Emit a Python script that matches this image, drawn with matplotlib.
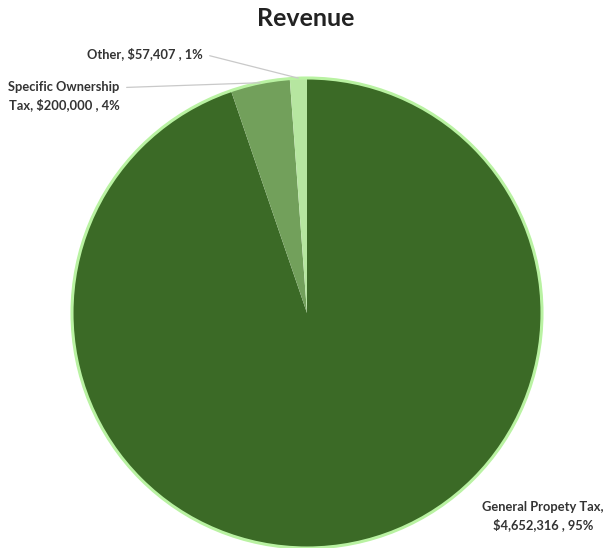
import numpy as np
import matplotlib.pyplot as plt

# revenue sources
names = ['General Propety Tax', 'Specific Ownership Tax', 'Other']
amounts = [4652316, 200000, 57407]
pcts = [95, 4, 1]
colors = ['#3b6a26', '#72a05b', '#b6e6a0']

W, H = 611, 548
fig = plt.figure(figsize=(W/100, H/100), dpi=100)
ax = fig.add_axes([0, 0, 1, 1])

cx, cy, r = 307, H - 313, 235
wedges, _ = ax.pie(amounts, colors=colors, startangle=90, counterclock=False,
                   center=(cx, cy), radius=r, wedgeprops=dict(linewidth=0))
# light rim round the pie
ax.add_patch(plt.Circle((cx, cy), r, fill=False, ec='#b9f2a2', lw=2.2))

ax.set_xlim(0, W)
ax.set_ylim(0, H)
ax.set_aspect('equal')
ax.axis('off')

lab_font = dict(family='Lato', fontweight='bold', fontsize=9.3, color='#333333')

def edge_pt(w):
    a = np.deg2rad((w.theta1 + w.theta2) / 2)
    return cx + r*np.cos(a), cy + r*np.sin(a)

# Other
ax.annotate(f'Other, ${amounts[2]:,} , {pcts[2]}%', xy=edge_pt(wedges[2]),
            xytext=(145, H - 54), ha='center', va='center', **lab_font,
            arrowprops=dict(arrowstyle='-', color='#c9c9c9', lw=0.9,
                            relpos=(1, 0.5), shrinkA=3, shrinkB=0))
# Specific Ownership Tax
ax.annotate(f'Specific Ownership\nTax, ${amounts[1]:,} , {pcts[1]}%', xy=edge_pt(wedges[1]),
            xytext=(64, H - 96), ha='center', va='center', linespacing=1.45, **lab_font,
            arrowprops=dict(arrowstyle='-', color='#c9c9c9', lw=0.9,
                            relpos=(1, 0.78), shrinkA=3, shrinkB=0))
# General Property Tax
ax.text(543, H - 516, f'{names[0]},\n${amounts[0]:,} , {pcts[0]}%', ha='center', va='center',
        linespacing=1.45, **lab_font)

ax.text(W/2, H - 19, 'Revenue', ha='center', va='center', family='Lato',
        fontweight='bold', fontsize=18, color='#222222')

fig.savefig('out.png', dpi=100)
